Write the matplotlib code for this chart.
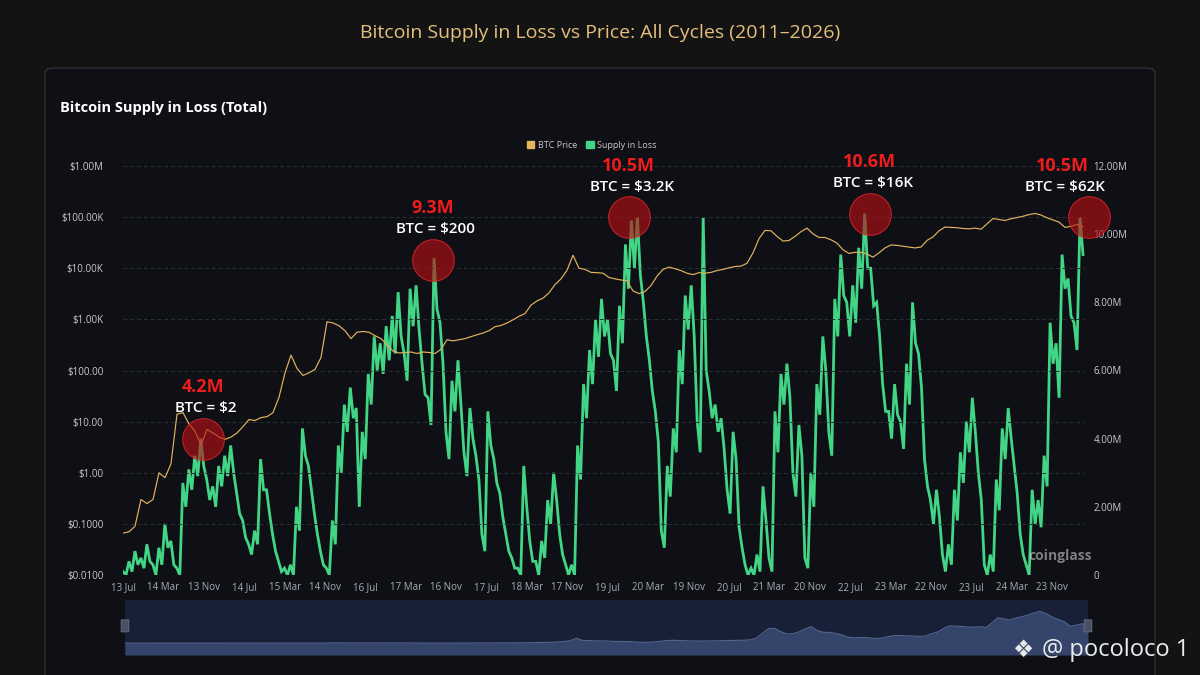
import numpy as np
import matplotlib
matplotlib.use("Agg")
import matplotlib.pyplot as plt
from matplotlib.patches import FancyBboxPatch, Patch
from matplotlib.ticker import FixedLocator, NullLocator

# supply in loss (million BTC), upper / lower edge of the noisy band, read every ~6px
supply_hi = [0.1, 0.4, 0.7, 0.5, 0.9, 0.3, 0.8, 1.5, 1.0, 0.2,
             2.7, 3.1, 3.5, 4.0, 2.8, 2.6, 3.2, 3.5, 3.8, 2.4,
             1.6, 0.9, 1.3, 3.4, 2.5, 1.2, 0.4, 0.2, 0.3, 2.0,
             4.3, 3.2, 1.8, 0.7, 0.2, 1.6, 3.8, 5.0, 5.5, 4.9,
             4.2, 5.9, 7.0, 6.8, 7.3, 7.6, 8.3, 6.5, 8.4, 8.5,
             6.2, 5.2, 9.3, 7.4, 4.2, 5.7, 6.3, 3.6, 4.9, 3.5,
             1.2, 4.8, 3.4, 2.4, 1.2, 0.5, 0.2, 3.2, 1.0, 0.4,
             1.0, 2.2, 3.0, 1.2, 0.3, 0.3, 3.8, 5.6, 6.6, 7.5,
             8.1, 7.5, 6.3, 7.9, 9.7, 10.4, 10.5, 8.0, 6.3, 4.8,
             1.3, 3.2, 4.3, 6.6, 8.2, 8.5, 4.5, 10.5, 5.4, 5.0,
             4.6, 2.5, 4.2, 1.4, 0.3, 0.2, 0.6, 2.6, 0.5, 4.8,
             5.9, 6.2, 3.0, 4.4, 0.5, 3.0, 5.6, 7.0, 4.2, 8.1,
             9.4, 8.0, 8.5, 9.6, 10.6, 9.0, 8.0, 5.6, 4.8, 5.6,
             4.5, 6.2, 8.0, 6.5, 3.4, 2.2, 2.5, 0.6, 0.9, 2.5,
             3.6, 4.5, 5.2, 3.0, 0.3, 0.6, 2.8, 4.3, 4.9, 3.2,
             1.2, 0.3, 2.5, 2.2, 3.5, 7.4, 6.8, 9.4, 8.7, 7.4,
             10.5]
supply_lo = [0.0, 0.1, 0.3, 0.2, 0.4, 0.0, 0.3, 0.8, 0.3, 0.0,
             2.0, 2.5, 2.9, 3.2, 2.2, 2.0, 2.6, 2.9, 3.0, 1.8,
             1.1, 0.6, 0.9, 2.5, 1.8, 0.7, 0.1, 0.0, 0.0, 1.3,
             3.5, 2.5, 1.2, 0.3, 0.0, 0.9, 3.0, 4.2, 4.6, 2.0,
             3.4, 5.0, 6.0, 5.9, 6.3, 6.5, 7.0, 5.7, 7.3, 7.2,
             5.3, 4.4, 7.8, 6.2, 3.4, 4.8, 5.0, 2.9, 4.0, 2.8,
             0.7, 3.8, 2.7, 1.7, 0.7, 0.2, 0.0, 2.0, 0.4, 0.0,
             0.5, 1.5, 2.2, 0.6, 0.0, 0.0, 2.8, 4.6, 5.6, 6.4,
             7.0, 6.5, 5.4, 6.8, 8.4, 9.0, 8.8, 7.0, 5.4, 3.9,
             0.8, 2.3, 3.6, 5.6, 7.2, 7.0, 3.6, 6.0, 4.6, 4.2,
             3.7, 1.8, 3.4, 0.8, 0.0, 0.0, 0.1, 1.6, 0.1, 3.6,
             5.0, 5.2, 2.3, 3.5, 0.2, 2.0, 4.7, 6.0, 3.5, 7.0,
             8.2, 7.0, 7.4, 8.4, 9.0, 7.9, 7.0, 4.8, 4.0, 4.7,
             3.7, 5.0, 6.8, 5.5, 2.6, 1.5, 1.7, 0.1, 0.3, 1.6,
             2.7, 3.6, 4.2, 2.2, 0.0, 0.1, 1.9, 3.4, 4.0, 2.4,
             0.6, 0.0, 1.5, 1.4, 2.6, 6.2, 5.2, 8.4, 7.6, 6.6,
             9.4]

# BTC price (USD), read every ~6px
btc_price = [0.066, 0.07, 0.09, 0.3, 0.25, 0.3, 1.0, 0.8, 1.5, 14,
             15, 9, 6.5, 3.5, 7, 6, 5, 4.5, 5, 6,
             8, 11, 10.5, 12, 12.5, 15, 30, 90, 200, 110,
             80, 90, 105, 180, 900, 850, 750, 600, 420, 560,
             580, 560, 480, 420, 320, 240, 220, 225, 230, 215,
             230, 225, 215, 260, 400, 380, 400, 420, 460, 500,
             540, 600, 720, 760, 850, 980, 1150, 1300, 1900, 2300,
             2600, 3300, 4800, 6200, 9100, 18000, 10000, 9500, 8300, 8200,
             8000, 6600, 6200, 5900, 5700, 3600, 3200, 3500, 4600, 7000,
             9500, 10500, 9800, 9000, 8000, 7500, 8200, 8000, 8300, 9000,
             9500, 10200, 10800, 11000, 12500, 20000, 38000, 55000, 54000, 42000,
             34000, 35000, 42000, 52000, 61000, 47000, 40000, 40000, 36000, 31000,
             23000, 19500, 20500, 20500, 19000, 16500, 20000, 25000, 28500, 28000,
             27000, 26000, 25000, 26000, 35000, 41000, 54000, 64000, 63000, 62000,
             60000, 59000, 61000, 58000, 74000, 94000, 90000, 86000, 93000, 98000,
             104000, 112000, 118000, 110000, 97000, 88000, 80000, 63000, 66000, 72000,
             65000]

date_labels = ["13 Jul", "14 Mar", "13 Nov", "14 Jul", "15 Mar", "14 Nov", "16 Jul", "17 Mar",
               "16 Nov", "17 Jul", "18 Mar", "17 Nov", "19 Jul", "20 Mar", "19 Nov", "20 Jul",
               "21 Mar", "20 Nov", "22 Jul", "23 Mar", "22 Nov", "23 Jul", "24 Mar", "23 Nov"]

price_ticks = [0.01, 0.1, 1, 10, 100, 1e3, 1e4, 1e5, 1e6]
price_tick_labels = ["$0.0100", "$0.1000", "$1.00", "$10.00", "$100.00",
                     "$1.00K", "$10.00K", "$100.00K", "$1.00M"]
supply_ticks = [0, 2, 4, 6, 8, 10, 12]
supply_tick_labels = ["0", "2.00M", "4.00M", "6.00M", "8.00M", "10.00M", "12.00M"]

# capitulation peaks (date in tick units, supply in loss M, price label)
peak_dates = [1.98, 7.67, 12.52, 18.49, 23.9]
peak_supply = [4.0, 9.25, 10.5, 10.6, 10.5]
peak_labels = ["4.2M", "9.3M", "10.5M", "10.6M", "10.5M"]
peak_prices = ["$2", "$200", "$3.2K", "$16K", "$62K"]

GREEN = "#42d586"
GOLD = "#e3b35e"
TXT = "#c9cbd1"
FONT = ["Open Sans", "DejaVu Sans"]

plt.rcParams["font.family"] = FONT

fig = plt.figure(figsize=(12, 6.75), dpi=100)
fig.patch.set_facecolor("#131313")

card = FancyBboxPatch((45 / 1200, -0.05), 1110 / 1200, 1 - 68 / 675 + 0.05,
                      boxstyle="round,pad=0,rounding_size=0.008",
                      transform=fig.transFigure, facecolor="#0e1015",
                      edgecolor="#2b2e35", linewidth=1.0, zorder=-5)
fig.patches.append(card)

fig.text(0.5, 1 - 33 / 675, "Bitcoin Supply in Loss vs Price: All Cycles (2011\u20132026)",
         ha="center", va="center", color="#e6bf7c", fontsize=14)
fig.text(60 / 1200, 1 - 108 / 675, "Bitcoin Supply in Loss (Total)", ha="left", va="center",
         color="white", fontsize=10.5, fontweight="bold")

x_end = (1083 - 123) / 40.4
x_lim = (1085 - 123) / 40.4

ax = fig.add_axes([123 / 1200, 1 - 575 / 675, (1085 - 123) / 1200, (575 - 166) / 675])
ax2 = ax.twinx()
ax.set_zorder(ax2.get_zorder() + 1)
ax.patch.set_visible(False)
ax2.set_facecolor("none")

supply = np.column_stack([supply_hi, supply_lo]).ravel()
xs = np.linspace(0, x_end, len(supply))
ax2.plot(xs, supply, color=GREEN, lw=2.0, zorder=2, solid_joinstyle="miter")

xp = np.linspace(0, x_end, len(btc_price))
ax.plot(xp, btc_price, color=GOLD, lw=0.85, zorder=3)

ax.set_yscale("log")
ax.set_ylim(0.01, 1e6)
ax.yaxis.set_major_locator(FixedLocator(price_ticks))
ax.yaxis.set_minor_locator(NullLocator())
ax.set_yticklabels(price_tick_labels)
ax2.set_ylim(0, 12)
ax2.set_yticks(supply_ticks)
ax2.set_yticklabels(supply_tick_labels)
ax.set_xlim(0, x_lim)
ax.set_xticks(range(len(date_labels)))
ax.set_xticklabels(date_labels)

for a in (ax, ax2):
    for s in a.spines.values():
        s.set_visible(False)
    a.tick_params(length=0, colors=TXT, labelsize=7)
ax.tick_params(axis="y", pad=14)
ax2.tick_params(axis="y", pad=6)
ax.tick_params(axis="x", pad=5, labelcolor="#a9acb3")
ax.grid(axis="y", color="#2a2e36", lw=0.7, ls=(0, (4, 3)))

# red circles + labels (drawn on the top axes so they cover both lines)
for d, v, lab, pr in zip(peak_dates, peak_supply, peak_labels, peak_prices):
    pv = 10 ** (np.log10(0.01) + v / 12 * 8)  # same height on the log axis
    ax.scatter([d], [pv], s=900, facecolor=(0.72, 0.06, 0.08, 0.62),
               edgecolor=(0.85, 0.15, 0.17, 0.8), linewidth=0.8, zorder=6, clip_on=False)
    dx = -19 if d > 23 else 0
    ax.annotate(lab, (d, pv), xytext=(dx, 37), textcoords="offset points", ha="center",
                va="center", color="#ee1c1c", fontsize=13, fontweight="bold",
                zorder=7, annotation_clip=False)
    ax.annotate("BTC = " + pr, (d, pv), xytext=(dx + 2, 22), textcoords="offset points",
                ha="center", va="center", color="white", fontsize=11,
                fontweight="semibold", zorder=7, annotation_clip=False)

leg = fig.legend(handles=[Patch(color=GOLD, label="BTC Price"),
                          Patch(color=GREEN, label="Supply in Loss")],
                 loc="center", bbox_to_anchor=(592 / 1200, 1 - 145 / 675), ncol=2,
                 frameon=False, fontsize=6.5, handlelength=0.8, handleheight=0.8,
                 handletextpad=0.4, columnspacing=1.0, labelcolor=TXT)

fig.text(1028 / 1200, 1 - 556 / 675, "coinglass", color="#d8d8d8", alpha=0.55,
         fontsize=10, fontweight="bold", ha="left", va="center", zorder=10)

# navigator strip
nav = fig.add_axes([125 / 1200, 1 - 655 / 675, (1088 - 125) / 1200, 55 / 675])
nav.set_facecolor("#172036")
nav.fill_between(xp, -44000, btc_price, color="#34446a", lw=0)
nav.plot(xp, btc_price, color="#54668f", lw=0.8)
nav.set_xlim(0, x_end)
nav.set_ylim(-44000, 160000)
nav.set_xticks([])
nav.set_yticks([])
for s in nav.spines.values():
    s.set_visible(False)
for hx in (0.0, 1.0):
    nav.add_patch(FancyBboxPatch((hx - 0.004, 0.42), 0.008, 0.22,
                                 boxstyle="round,pad=0,rounding_size=0.003",
                                 transform=nav.transAxes, facecolor="#4a5064",
                                 edgecolor="#6a7086", lw=0.6, clip_on=False, zorder=5))

fig.text(1023 / 1200, 1 - 650 / 675, "\u2756", color="#e8e8e8", fontsize=17,
         ha="center", va="center", family=["DejaVu Sans"])
fig.text(1042 / 1200, 1 - 650 / 675, "@ pocoloco 1", color="#ececec", fontsize=17,
         ha="left", va="center")

fig.savefig("out.png", dpi=100, facecolor=fig.get_facecolor())
